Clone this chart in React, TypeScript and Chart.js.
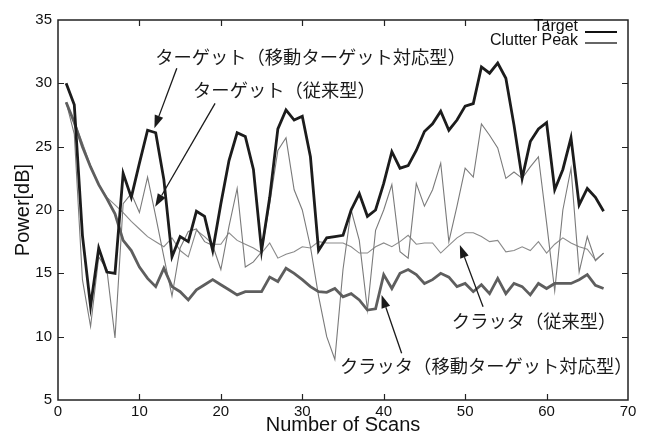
import React, { useEffect, useRef } from 'react';
import { Chart, registerables } from 'chart.js';

Chart.register(...registerables);

const scans = [
  1, 2, 3, 4, 5, 6, 7, 8, 9, 10, 11, 12, 13, 14, 15, 16, 17, 18, 19, 20,
  21, 22, 23, 24, 25, 26, 27, 28, 29, 30, 31, 32, 33, 34, 35, 36, 37, 38, 39, 40,
  41, 42, 43, 44, 45, 46, 47, 48, 49, 50, 51, 52, 53, 54, 55, 56, 57, 58, 59, 60,
  61, 62, 63, 64, 65, 66, 67,
];

const targetMoving = [
  30.0, 28.3, 18.0, 12.4, 17.0, 15.1, 15.0, 22.9, 21.0, 23.7,
  26.3, 26.1, 22.4, 16.3, 17.9, 17.5, 19.9, 19.5, 16.8, 20.5,
  23.9, 26.1, 25.8, 23.2, 16.8, 21.0, 26.4, 27.9, 27.1, 27.4,
  24.2, 16.8, 17.8, 17.9, 18.0, 20.0, 21.3, 19.5, 20.0, 22.1,
  24.6, 23.3, 23.5, 24.7, 26.2, 26.8, 27.8, 26.3, 27.1, 28.2,
  28.4, 31.3, 30.8, 31.6, 30.4, 26.7, 22.5, 25.4, 26.4, 26.9,
  21.6, 23.2, 25.7, 20.4, 21.7, 21.0, 19.9,
];

const targetConventional = [
  28.5, 26.0, 14.5, 10.8, 16.3, 15.3, 9.9, 20.5, 21.3, 19.8,
  22.6, 19.5, 16.3, 13.2, 17.0, 18.3, 18.5, 17.5, 17.2, 15.3,
  18.7, 21.7, 15.5, 15.9, 16.7, 20.5, 24.7, 25.7, 21.6, 20.0,
  17.1, 13.2, 10.0, 8.2, 15.3, 20.0, 17.6, 12.1, 18.4, 20.0,
  22.0, 16.7, 16.2, 22.1, 20.3, 21.6, 23.7, 17.5, 20.3, 23.3,
  22.6, 26.8, 25.9, 24.9, 22.5, 23.0, 22.5, 23.4, 24.2, 19.0,
  13.6, 20.0, 23.3, 15.1, 17.9, 16.0, 16.6,
];

const clutterMoving = [
  28.5, 26.9, 25.0, 23.4, 22.0, 20.9, 19.7, 17.6, 16.8, 15.5,
  14.6, 13.95, 15.4, 13.95, 13.55, 12.9, 13.7, 14.1, 14.5, 14.1,
  13.7, 13.3, 13.55, 13.55, 13.55, 14.7, 14.35, 15.4, 15.0, 14.5,
  13.95, 13.55, 13.5, 13.8, 13.15, 13.4, 12.9, 12.1, 12.2, 14.9,
  13.8, 15.0, 15.3, 14.9, 14.2, 14.5, 15.0, 14.7, 13.95, 14.2,
  13.55, 14.1, 13.4, 14.6, 13.4, 14.2, 13.95, 13.3, 14.2, 13.8,
  14.2, 14.2, 14.2, 14.5, 14.9, 14.05, 13.8,
];

const clutterConventional = [
  28.5, 27.0, 25.3, 23.5, 22.0, 21.0, 20.4, 19.8, 19.1, 18.5,
  17.9, 17.5, 17.1, 17.8, 16.8, 16.3, 18.4, 17.9, 17.3, 17.3,
  18.2, 17.6, 17.3, 17.0, 16.6, 17.4, 16.2, 16.5, 16.7, 17.1,
  17.0, 17.5, 17.4, 17.4, 17.4, 17.1, 16.6, 16.6, 17.1, 17.4,
  17.1, 17.5, 18.0, 17.3, 17.4, 17.4, 16.6, 17.2, 17.8, 18.2,
  18.2, 17.9, 17.5, 17.6, 16.7, 16.8, 17.1, 16.8, 17.5, 16.6,
  17.3, 17.8, 17.4, 17.1, 16.9, 16.05, 16.6,
];

const xTicks = [0, 10, 20, 30, 40, 50, 60, 70];
const yTicks = [5, 10, 15, 20, 25, 30, 35];
const legendLabels = ['Target', 'Clutter Peak'];
const xTitle = 'Number of Scans';
const yTitle = 'Power[dB]';
const annotationTexts = [
  'ターゲット（移動ターゲット対応型）',
  'ターゲット（従来型）',
  'クラッタ（従来型）',
  'クラッタ（移動ターゲット対応型）',
];
// anchors in data coordinates: text left/center, arrow start, arrow tip
const annotationAnchors = [
  { tx: 11.93, ty: 32.08, ax: 14.59, ay: 31.19, bx: 11.84, by: 26.45 },
  { tx: 16.59, ty: 29.47, ax: 19.29, ay: 28.42, bx: 11.93, by: 20.26 },
  { tx: 48.37, ty: 11.24, ax: 52.2, ay: 12.37, bx: 49.35, by: 17.24 },
  { tx: 34.63, ty: 7.68, ax: 42.2, ay: 8.69, bx: 39.74, by: 13.29 },
];

const LATIN = '"Liberation Sans", Arial, sans-serif';
const CJK = '"Noto Sans CJK JP", "Noto Sans CJK SC", sans-serif';

function toPoints(ys: number[]) {
  return ys.map((y, i) => ({ x: scans[i], y }));
}

const overlayPlugin = {
  id: 'overlay',
  afterDraw(chart: any) {
    const ctx = chart.ctx as CanvasRenderingContext2D;
    const { left, right, top, bottom } = chart.chartArea;
    const xs = chart.scales.x;
    const ys = chart.scales.y;
    ctx.save();
    // border
    ctx.strokeStyle = '#222';
    ctx.lineWidth = 1.5;
    ctx.strokeRect(left, top, right - left, bottom - top);
    // inward ticks
    ctx.lineWidth = 1.2;
    ctx.beginPath();
    const tl = 6;
    xTicks.forEach((v) => {
      if (v === xTicks[0] || v === xTicks[xTicks.length - 1]) return;
      const px = Math.round(xs.getPixelForValue(v)) + 0.5;
      ctx.moveTo(px, bottom);
      ctx.lineTo(px, bottom - tl);
      ctx.moveTo(px, top);
      ctx.lineTo(px, top + tl);
    });
    yTicks.forEach((v) => {
      if (v === yTicks[0] || v === yTicks[yTicks.length - 1]) return;
      const py = Math.round(ys.getPixelForValue(v)) + 0.5;
      ctx.moveTo(left, py);
      ctx.lineTo(left + tl, py);
      ctx.moveTo(right, py);
      ctx.lineTo(right - tl, py);
    });
    ctx.stroke();

    // axis titles
    ctx.fillStyle = '#111';
    ctx.font = `20px ${LATIN}`;
    ctx.textAlign = 'center';
    ctx.textBaseline = 'alphabetic';
    ctx.fillText(xTitle, (left + right) / 2, 431);
    ctx.save();
    ctx.translate(29, (top + bottom) / 2);
    ctx.rotate(-Math.PI / 2);
    ctx.fillText(yTitle, 0, 0);
    ctx.restore();

    // legend
    ctx.font = `16px ${LATIN}`;
    ctx.textAlign = 'right';
    const legendColors = ['#111', '#666'];
    const textY = [31, 45];
    const lineY = [32, 43];
    legendLabels.forEach((lab, i) => {
      ctx.fillStyle = '#111';
      ctx.fillText(lab, right - 50, top + textY[i] - 20);
      ctx.strokeStyle = legendColors[i];
      ctx.lineWidth = 2;
      ctx.beginPath();
      ctx.moveTo(right - 43, top + lineY[i] - 20);
      ctx.lineTo(right - 11, top + lineY[i] - 20);
      ctx.stroke();
    });

    // annotations
    ctx.font = `18.3px ${CJK}`;
    ctx.textAlign = 'left';
    ctx.textBaseline = 'middle';
    annotationTexts.forEach((t, i) => {
      const a = annotationAnchors[i];
      ctx.fillStyle = '#1a1a1a';
      ctx.fillText(t, xs.getPixelForValue(a.tx), ys.getPixelForValue(a.ty));
      const x1 = xs.getPixelForValue(a.ax);
      const y1 = ys.getPixelForValue(a.ay);
      const x2 = xs.getPixelForValue(a.bx);
      const y2 = ys.getPixelForValue(a.by);
      const ang = Math.atan2(y2 - y1, x2 - x1);
      const hl = 13;
      const hw = 4.5;
      const bxp = x2 - hl * Math.cos(ang);
      const byp = y2 - hl * Math.sin(ang);
      ctx.strokeStyle = '#1a1a1a';
      ctx.lineWidth = 1.3;
      ctx.beginPath();
      ctx.moveTo(x1, y1);
      ctx.lineTo(bxp, byp);
      ctx.stroke();
      ctx.beginPath();
      ctx.moveTo(x2, y2);
      ctx.lineTo(bxp + hw * Math.sin(ang), byp - hw * Math.cos(ang));
      ctx.lineTo(bxp - hw * Math.sin(ang), byp + hw * Math.cos(ang));
      ctx.closePath();
      ctx.fill();
    });
    ctx.restore();
  },
};

export default function App() {
  const ref = useRef<HTMLCanvasElement | null>(null);
  useEffect(() => {
    if (!ref.current) return;
    const chart = new Chart(ref.current, {
      type: 'line',
      data: {
        datasets: [
          {
            label: 'Target (moving)',
            data: toPoints(targetMoving),
            borderColor: '#1c1c1c',
            borderWidth: 2.8,
            pointRadius: 0,
            tension: 0,
          },
          {
            label: 'Clutter (moving)',
            data: toPoints(clutterMoving),
            borderColor: '#5e5e5e',
            borderWidth: 2.8,
            pointRadius: 0,
            tension: 0,
          },
          {
            label: 'Target (conventional)',
            data: toPoints(targetConventional),
            borderColor: '#7a7a7a',
            borderWidth: 1.1,
            pointRadius: 0,
            tension: 0,
          },
          {
            label: 'Clutter (conventional)',
            data: toPoints(clutterConventional),
            borderColor: '#8a8a8a',
            borderWidth: 1.1,
            pointRadius: 0,
            tension: 0,
          },
        ],
      },
      options: {
        responsive: false,
        animation: false,
        devicePixelRatio: 1,
        layout: { padding: { top: 20, right: 22, left: 0, bottom: 0 } },
        plugins: {
          legend: { display: false },
          tooltip: { enabled: false },
        },
        scales: {
          x: {
            type: 'linear',
            min: 0,
            max: 70,
            grid: { display: false, drawTicks: false },
            border: { display: false },
            ticks: {
              stepSize: 10,
              autoSkip: false,
              maxRotation: 0,
              padding: 3,
              color: '#111',
              font: { family: LATIN, size: 15 },
            },
            afterFit: (s: any) => {
              s.height = 34;
            },
          },
          y: {
            type: 'linear',
            min: 5,
            max: 35,
            grid: { display: false, drawTicks: false },
            border: { display: false },
            ticks: {
              stepSize: 5,
              autoSkip: false,
              padding: 6,
              color: '#111',
              font: { family: LATIN, size: 15 },
            },
            afterFit: (s: any) => {
              s.width = 58;
            },
          },
        },
      },
      plugins: [overlayPlugin],
    } as any);
    return () => chart.destroy();
  }, []);
  return (
    <div style={{ position: 'absolute', left: 0, top: 0, width: 650, height: 434, background: '#fff' }}>
      <canvas ref={ref} width={650} height={434} />
    </div>
  );
}
